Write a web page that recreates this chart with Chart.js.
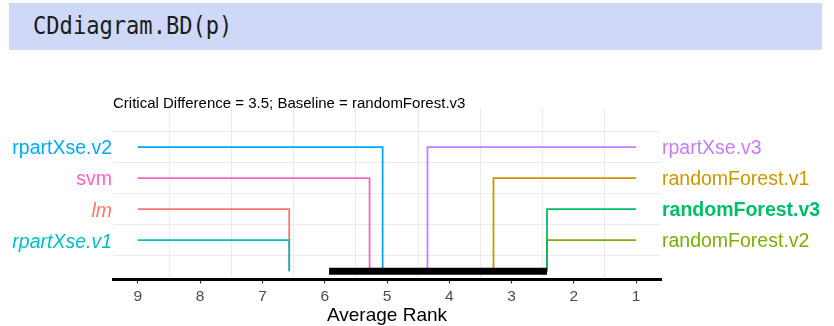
<!DOCTYPE html>
<html>
<head>
<meta charset="utf-8">
<script src="https://cdn.jsdelivr.net/npm/chart.js@4/dist/chart.umd.min.js"></script>
<style>
  html, body { margin: 0; padding: 0; background: #fff; width: 834px; height: 326px; overflow: hidden; }
  #code {
    position: absolute; left: 9px; top: 3px; width: 813px; height: 47px;
    background: #cfd8f6; color: #1c1c1c;
    font-family: 'DejaVu Sans Mono', monospace; font-size: 24px; line-height: 47px;
    box-sizing: border-box; padding-left: 24px; z-index: 2;
  }
  #code span { display: inline-block; transform: scaleX(0.92); transform-origin: left center; }
  #wrap { position: absolute; left: 0; top: 0; width: 834px; height: 326px; }
</style>
</head>
<body>
<div id="code"><span>CDdiagram.BD(p)</span></div>
<div id="wrap"><canvas id="cd" width="834" height="326"></canvas></div>
<script>
// Average ranks of the learners (lower is better)
const xTicks = [1, 2, 3, 4, 5, 6, 7, 8, 9];
const leftModels = ['rpartXse.v2', 'svm', 'lm', 'rpartXse.v1'];
const leftRanks = [5.07, 5.28, 6.57, 6.57];
const rightModels = ['rpartXse.v3', 'randomForest.v1', 'randomForest.v3', 'randomForest.v2'];
const rightRanks = [4.35, 3.29, 2.43, 2.43];
const criticalDifference = 3.5;
const baselineModel = 'randomForest.v3';

// ggplot-style hue palette, assigned to model names in alphabetical order
const huePalette = ['#F8766D', '#CD9600', '#7CAE00', '#00BE67', '#00BFC4', '#00A9FF', '#C77CFF', '#FF61CC'];
const allModels = leftModels.concat(rightModels);
const sortedModels = allModels.slice().sort();
const colourOf = name => huePalette[sortedModels.indexOf(name)] || '#000';

const FONT = "'Liberation Sans', Arial, sans-serif";
const nRows = leftModels.length;
const rowY = i => nRows - i;                       // row 0 at the top
const rowValues = leftModels.map((_, i) => rowY(i));
const xMax = Math.max(...xTicks), xMin = Math.min(...xTicks);
const baselineRank = rightRanks[rightModels.indexOf(baselineModel)];

const rankOf = name => {
  const li = leftModels.indexOf(name);
  return li >= 0 ? leftRanks[li] : rightRanks[rightModels.indexOf(name)];
};
// bold for the baseline, italic when further than the CD from it
const faceOf = name => {
  if (name === baselineModel) return { weight: 'bold', style: 'normal' };
  if (rankOf(name) - baselineRank > criticalDifference) return { weight: 'normal', style: 'italic' };
  return { weight: 'normal', style: 'normal' };
};

function connector(name, rank, y, fromX) {
  return {
    label: name,
    data: [{ x: fromX, y: y }, { x: rank, y: y }, { x: rank, y: 0 }],
    borderColor: colourOf(name),
    borderWidth: 1.8,
    borderCapStyle: 'butt',
    borderJoinStyle: 'miter',
    pointRadius: 0,
    showLine: true,
    fill: false,
    tension: 0,
    order: 2 + (sortedModels.length - sortedModels.indexOf(name))
  };
}

const datasets = [];
leftModels.forEach((m, i) => datasets.push(connector(m, leftRanks[i], rowY(i), xMax)));
rightModels.forEach((m, i) => datasets.push(connector(m, rightRanks[i], rowY(i), xMin)));
// critical difference bar starting at the baseline's rank
datasets.push({
  label: 'CD',
  data: [{ x: baselineRank, y: 0 }, { x: baselineRank + criticalDifference, y: 0 }],
  borderColor: '#000',
  borderWidth: 7,
  borderCapStyle: 'butt',
  pointRadius: 0,
  showLine: true,
  order: 0
});

const halfSteps = xTicks.slice(0, -1).map(v => v + 0.5);
const rowGrid = rowValues.map(v => v + 0.5).concat([0.5]);
const xRange = { min: 0.6, max: 9.4 };
const yRange = { min: -0.27, max: 5.26 };

const nameAt = (names, ctx) => (ctx && ctx.tick) ? names[nRows - ctx.tick.value] : null;
const labelTicks = (names) => ({
  padding: 1,
  labelOffset: 2,
  autoSkip: false,
  callback: v => names[nRows - v],
  color: ctx => { const n = nameAt(names, ctx); return n ? colourOf(n) : '#000'; },
  font: ctx => {
    const n = nameAt(names, ctx);
    return Object.assign({ family: FONT, size: 19.5 }, n ? faceOf(n) : { weight: 'normal', style: 'normal' });
  }
});

new Chart(document.getElementById('cd'), {
  type: 'scatter',
  data: { datasets },
  options: {
    responsive: false,
    animation: false,
    layout: { padding: { top: 96, left: 0, right: 0, bottom: 0 } },
    plugins: {
      legend: { display: false },
      tooltip: { enabled: false },
      title: {
        display: true,
        text: `Critical Difference = ${criticalDifference}; Baseline = ${baselineModel}`,
        align: 'start',
        fullSize: false,
        color: '#000',
        font: { family: FONT, size: 15, weight: 'normal', lineHeight: 0.5333 },
        padding: { top: 4, bottom: 0 }
      }
    },
    scales: {
      x: {
        type: 'linear', position: 'bottom', reverse: true, ...xRange,
        afterBuildTicks: a => { a.ticks = xTicks.map(v => ({ value: v })); },
        ticks: { color: '#4d4d4d', font: { family: FONT, size: 15.5 }, padding: 3.5 },
        grid: { drawOnChartArea: false, drawTicks: true, tickLength: 4, tickColor: '#333', tickWidth: 1.2 },
        border: { display: true, color: '#000', width: 3 },
        title: { display: true, text: 'Average Rank', color: '#000', font: { family: FONT, size: 19, lineHeight: 1 }, padding: { top: 0, bottom: 0.5 } },
        afterFit: s => { s.height = 46.5; }
      },
      xg: {
        type: 'linear', position: 'bottom', reverse: true, ...xRange,
        afterBuildTicks: a => { a.ticks = halfSteps.map(v => ({ value: v })); },
        ticks: { display: false },
        grid: { color: '#ebebeb', lineWidth: 1, drawTicks: false },
        border: { display: false },
        afterFit: s => { s.height = 0; }
      },
      y: {
        type: 'linear', position: 'left', ...yRange,
        afterBuildTicks: a => { a.ticks = rowValues.map(v => ({ value: v })); },
        ticks: labelTicks(leftModels),
        grid: { display: false, drawTicks: false },
        border: { display: false },
        afterFit: s => { s.width = 113; }
      },
      yr: {
        type: 'linear', position: 'right', ...yRange,
        afterBuildTicks: a => { a.ticks = rowValues.map(v => ({ value: v })); },
        ticks: labelTicks(rightModels),
        grid: { display: false, drawTicks: false },
        border: { display: false },
        afterFit: s => { s.width = 173; }
      },
      yg: {
        type: 'linear', position: 'left', ...yRange,
        afterBuildTicks: a => { a.ticks = rowGrid.map(v => ({ value: v })); },
        ticks: { display: false },
        grid: { color: '#ebebeb', lineWidth: 1, drawTicks: false },
        border: { display: false },
        afterFit: s => { s.width = 0; }
      }
    }
  }
});
</script>
</body>
</html>
